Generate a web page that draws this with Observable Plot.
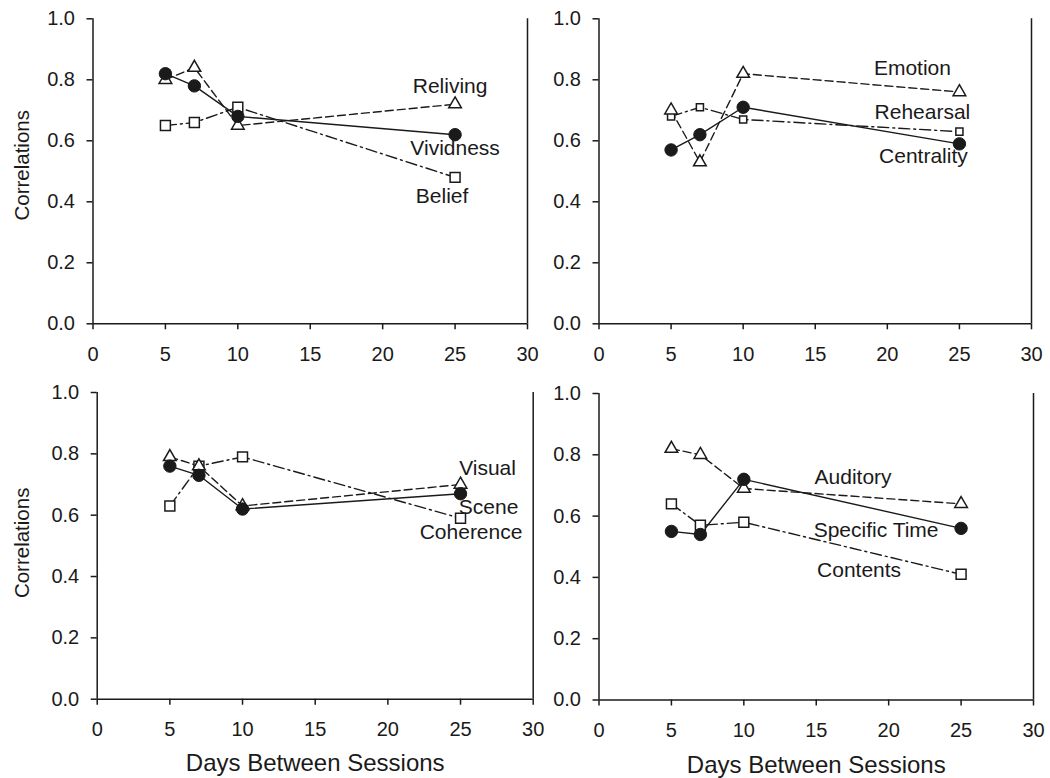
<!DOCTYPE html>
<html>
<head>
<meta charset="utf-8">
<script src="https://cdn.jsdelivr.net/npm/d3@7"></script>
<script src="https://cdn.jsdelivr.net/npm/@observablehq/plot@0.6"></script>
<style>
  html, body { margin: 0; padding: 0; background: #ffffff; }
  #wrap { position: relative; width: 1050px; height: 778px; overflow: hidden; background: #ffffff; }
  .panel { position: absolute; }
</style>
</head>
<body>
<div id="wrap"></div>
<script>
// ---------- data ----------
const days = [5, 7, 10, 25];
const xTicks = [0, 5, 10, 15, 20, 25, 30];
const yTicks = [0, 0.2, 0.4, 0.6, 0.8, 1.0];
const yTitle = "Correlations";
const xTitle = "Days Between Sessions";

// Panel A (top left)
const vividness = [0.82, 0.78, 0.68, 0.62];
const reliving  = [0.80, 0.84, 0.65, 0.72];
const belief    = [0.65, 0.66, 0.71, 0.48];

// Panel B (top right)
const centrality = [0.57, 0.62, 0.71, 0.59];
const emotion    = [0.70, 0.53, 0.82, 0.76];
const rehearsal  = [0.68, 0.71, 0.67, 0.63];

// Panel C (bottom left)
const scene     = [0.76, 0.73, 0.62, 0.67];
const visual    = [0.79, 0.76, 0.63, 0.70];
const coherence = [0.63, 0.76, 0.79, 0.59];

// Panel D (bottom right)
const specificTime = [0.55, 0.54, 0.72, 0.56];
const auditory     = [0.82, 0.80, 0.69, 0.64];
const contents     = [0.64, 0.57, 0.58, 0.41];

// ---------- styles ----------
const INK = "#1a1a1a";
const FONT = "'Liberation Sans', Arial, Helvetica, sans-serif";
const dashes = { circle: null, triangle: "8,4", square: "11,4,2,4" };

function makePanel(cfg) {
  const marks = [];
  // frame: bottom axis line, left axis line, right border
  marks.push(Plot.ruleY([0], { x1: 0, x2: 30, stroke: INK, strokeWidth: 1.5 }));
  marks.push(Plot.ruleX([0, 30], { y1: 0, y2: 1, stroke: INK, strokeWidth: 1.5 }));
  marks.push(Plot.axisX({
    ticks: xTicks, tickSize: 6, tickPadding: 17, label: null, fontSize: 20,
    stroke: INK, strokeWidth: 1.5, fill: INK
  }));
  marks.push(Plot.axisY({
    ticks: yTicks, tickSize: 6, tickPadding: 12, label: null, fontSize: 20,
    tickFormat: d => d.toFixed(1), stroke: INK, strokeWidth: 1.5, fill: INK
  }));

  // lines
  for (const s of cfg.series) {
    const data = days.map((d, i) => ({ x: d, y: s.values[i] }));
    marks.push(Plot.line(data, {
      x: "x", y: "y", stroke: INK, strokeWidth: 1.4,
      strokeDasharray: dashes[s.kind]
    }));
  }
  // markers: squares, triangles, then circles on top
  const order = ["square", "triangle", "circle"];
  for (const kind of order) {
    for (const s of cfg.series.filter(t => t.kind === kind)) {
      const data = days.map((d, i) => ({ x: d, y: s.values[i] }));
      if (kind === "circle") {
        marks.push(Plot.dot(data, { x: "x", y: "y", r: 6.2, symbol: "circle", fill: INK, stroke: INK, strokeWidth: 1 }));
      } else if (kind === "triangle") {
        marks.push(Plot.dot(data, { x: "x", y: "y", r: 4.7, symbol: "triangle", fill: "white", stroke: INK, strokeWidth: 1.5 }));
      } else {
        marks.push(Plot.dot(data, { x: "x", y: "y", r: cfg.squareR, symbol: "square", fill: "white", stroke: INK, strokeWidth: 1.5 }));
      }
    }
  }
  // series labels, anchored to the last point of each series
  for (const s of cfg.series) {
    const last = days.length - 1;
    marks.push(Plot.text([{ x: days[last], y: s.values[last], t: s.name }], {
      x: "x", y: "y", text: "t", dx: s.dx, dy: s.dy,
      fontSize: 21, fill: INK, textAnchor: "middle", lineAnchor: "middle"
    }));
  }
  // axis titles
  if (cfg.showYTitle) {
    marks.push(Plot.text([yTitle], {
      text: d => d, frameAnchor: "left", rotate: -90, dx: cfg.yTitleDx, dy: cfg.yTitleDy,
      fontSize: 20.5, fill: INK, textAnchor: "middle", lineAnchor: "middle"
    }));
  }
  if (cfg.showXTitle) {
    marks.push(Plot.text([xTitle], {
      text: d => d, frameAnchor: "bottom", dy: cfg.xTitleDy,
      fontSize: 24, fill: INK, textAnchor: "middle", lineAnchor: "middle"
    }));
  }

  const chart = Plot.plot({
    width: cfg.width, height: cfg.height,
    marginLeft: cfg.mL, marginRight: cfg.mR, marginTop: cfg.mT, marginBottom: cfg.mB,
    x: { domain: [0, 30] },
    y: { domain: [0, 1] },
    style: { fontFamily: FONT, fontSize: "20px", color: INK, background: "none", overflow: "visible" },
    marks
  });
  const div = document.createElement("div");
  div.className = "panel";
  div.style.left = cfg.left + "px";
  div.style.top = cfg.top + "px";
  div.style.width = cfg.width + "px";
  div.appendChild(chart);
  document.getElementById("wrap").appendChild(div);
}

makePanel({
  left: 0, top: 0, width: 540, height: 380,
  mL: 92.5, mR: 13, mT: 18.3, mB: 56.7, squareR: 5.6,
  showYTitle: true, yTitleDx: -71, yTitleDy: -6, showXTitle: false,
  series: [
    { name: "Belief", values: belief, kind: "square", dx: -13, dy: 19 },
    { name: "Reliving", values: reliving, kind: "triangle", dx: -5, dy: -18 },
    { name: "Vividness", values: vividness, kind: "circle", dx: 0, dy: 14 }
  ]
});

makePanel({
  left: 510, top: 0, width: 540, height: 380,
  mL: 88.5, mR: 19, mT: 18.3, mB: 56.7, squareR: 4.0,
  showYTitle: false, showXTitle: false,
  series: [
    { name: "Rehearsal", values: rehearsal, kind: "square", dx: -37, dy: -19 },
    { name: "Emotion", values: emotion, kind: "triangle", dx: -47, dy: -24 },
    { name: "Centrality", values: centrality, kind: "circle", dx: -36, dy: 12.5 }
  ]
});

makePanel({
  left: 0, top: 380, width: 545, height: 398,
  mL: 96.7, mR: 12.3, mT: 12, mB: 79.3, squareR: 5.6,
  showYTitle: true, yTitleDx: -74.5, yTitleDy: -3, showXTitle: true, xTitleDy: 64,
  series: [
    { name: "Coherence", values: coherence, kind: "square", dx: 10.5, dy: 14.3 },
    { name: "Visual", values: visual, kind: "triangle", dx: 27, dy: -16.7 },
    { name: "Scene", values: scene, kind: "circle", dx: 28, dy: 14 }
  ]
});

makePanel({
  left: 510, top: 380, width: 540, height: 398,
  mL: 88.5, mR: 17, mT: 13, mB: 78.5, squareR: 5.6,
  showYTitle: false, showXTitle: true, xTitleDy: 65,
  series: [
    { name: "Contents", values: contents, kind: "square", dx: -102, dy: -4 },
    { name: "Auditory", values: auditory, kind: "triangle", dx: -108, dy: -26.5 },
    { name: "Specific Time", values: specificTime, kind: "circle", dx: -85, dy: 2 }
  ]
});
</script>
</body>
</html>
